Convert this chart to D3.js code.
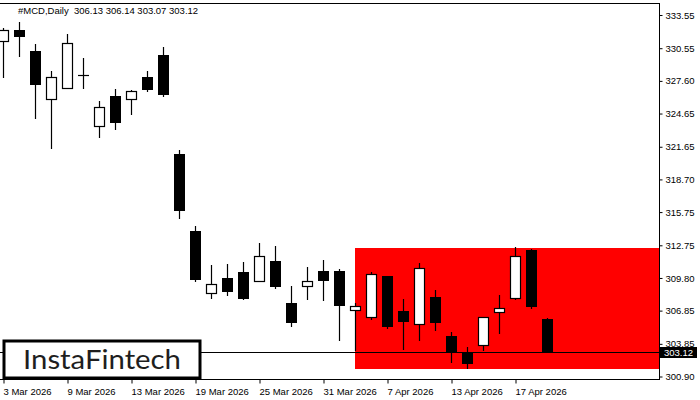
<!DOCTYPE html>
<html><head><meta charset="utf-8">
<script src="https://cdn.jsdelivr.net/npm/d3@7"></script>
<style>html,body{margin:0;padding:0;background:#fff;} svg{display:block;}</style>
</head><body><svg id="c" width="700" height="400"></svg>
<script>
const dates = ["3 Mar 2026","4 Mar 2026","5 Mar 2026","6 Mar 2026","9 Mar 2026","10 Mar 2026","11 Mar 2026","12 Mar 2026","13 Mar 2026","16 Mar 2026","17 Mar 2026","18 Mar 2026","19 Mar 2026","20 Mar 2026","23 Mar 2026","24 Mar 2026","25 Mar 2026","26 Mar 2026","27 Mar 2026","30 Mar 2026","31 Mar 2026","1 Apr 2026","2 Apr 2026","6 Apr 2026","7 Apr 2026","8 Apr 2026","9 Apr 2026","10 Apr 2026","13 Apr 2026","14 Apr 2026","15 Apr 2026","16 Apr 2026","17 Apr 2026","20 Apr 2026","21 Apr 2026"];
const opens  = [331.18,332.17,330.30,325.95,326.94,328.14,323.48,326.22,326.00,327.93,329.94,321.01,314.07,308.41,309.83,310.37,309.53,311.36,307.57,309.04,310.46,310.46,306.90,306.28,309.98,306.85,305.65,308.09,304.57,303.13,303.72,306.74,307.96,312.35,306.13];
const highs  = [332.38,332.92,330.93,328.50,331.84,329.67,325.79,326.88,326.76,328.50,330.66,321.37,314.52,311.00,311.09,311.27,312.99,312.71,309.11,310.82,311.45,310.64,307.57,310.37,310.00,307.93,311.18,308.72,304.96,303.52,306.30,308.27,312.60,312.40,306.14];
const lows   = [327.87,329.79,324.20,321.49,326.90,326.90,322.48,323.20,324.56,326.63,326.18,315.15,309.47,307.87,308.14,307.78,309.50,308.77,305.35,307.78,307.69,304.08,303.18,305.98,305.23,303.27,304.08,304.99,302.14,301.59,303.18,304.71,307.78,307.03,303.07];
const closes = [332.20,331.68,327.35,327.93,331.00,328.15,325.22,323.93,326.70,326.90,326.45,315.90,309.68,309.26,308.59,307.96,311.81,309.04,305.80,309.56,309.59,307.33,307.28,310.16,305.44,305.89,310.70,305.80,303.13,302.10,306.28,307.10,311.79,307.24,303.12];
const yTicks = [333.55,330.55,327.60,324.65,321.65,318.70,315.75,312.75,309.80,306.85,303.85,300.90];
const xTickIdx = [0,4,8,12,16,20,24,28,32];
const symbolTitle = "#MCD,Daily";
const patternStart = 22, patternHigh = 312.55, patternLow = 301.60;
const lastPrice = 303.12;

const svg = d3.select("#c");
const L = 0, R = 659, T = 3, B = 379;
const x = d3.scaleLinear().domain([-0.1875, 41]).range([L, R]);
const y = d3.scaleLinear().domain([300.90, 333.55]).range([376.5, 15]);
const font = "'Liberation Sans', Arial, sans-serif";

svg.append("defs").append("clipPath").attr("id","clip")
  .append("rect").attr("x",L).attr("y",T).attr("width",R-L).attr("height",B-T);
const plot = svg.append("g").attr("clip-path","url(#clip)");

// pattern rectangle
plot.append("rect")
  .attr("x", Math.round(x(patternStart)))
  .attr("y", Math.round(y(patternHigh)))
  .attr("width", R - Math.round(x(patternStart)))
  .attr("height", Math.round(y(patternLow)) - Math.round(y(patternHigh)))
  .attr("fill", "#ff0000");

// candles
const data = dates.map((d,i)=>({i, o:opens[i], h:highs[i], l:lows[i], c:closes[i]}));
const cg = plot.selectAll("g.c").data(data).join("g").attr("class","c");
cg.append("line")
  .attr("x1", d=>Math.round(x(d.i))+0.5).attr("x2", d=>Math.round(x(d.i))+0.5)
  .attr("y1", d=>Math.round(y(d.h))).attr("y2", d=>Math.round(y(d.l)))
  .attr("stroke","#000").attr("stroke-width",1.2);
cg.each(function(d){
  const g = d3.select(this);
  const cx = Math.round(x(d.i));
  const top = Math.round(y(Math.max(d.o,d.c)));
  const bot = Math.round(y(Math.min(d.o,d.c)));
  if (bot - top < 1) {
    g.append("line").attr("x1",cx-5).attr("x2",cx+6).attr("y1",top+0.5).attr("y2",top+0.5)
      .attr("stroke","#000").attr("stroke-width",1.2);
  } else if (d.c >= d.o) {
    g.append("rect").attr("x",cx-4.5).attr("y",top+0.5).attr("width",10).attr("height",bot-top)
      .attr("fill","#fff").attr("stroke","#000").attr("stroke-width",1.2);
  } else {
    g.append("rect").attr("x",cx-5).attr("y",top).attr("width",11).attr("height",bot-top+1)
      .attr("fill","#000");
  }
});

// last price line
svg.append("line").attr("x1",L).attr("x2",R)
  .attr("y1",Math.round(y(lastPrice))+0.5).attr("y2",Math.round(y(lastPrice))+0.5)
  .attr("stroke","#000").attr("stroke-width",1);

// frame
svg.append("line").attr("x1",L).attr("x2",R+0.5).attr("y1",T+0.5).attr("y2",T+0.5).attr("stroke","#000");
svg.append("line").attr("x1",L).attr("x2",R+0.5).attr("y1",B+0.5).attr("y2",B+0.5).attr("stroke","#000");

// right axis
const yAxis = d3.axisRight(y).tickValues(yTicks).tickFormat(d3.format(".2f")).tickSize(3).tickPadding(3);
const ya = svg.append("g").attr("transform",`translate(${R+0.5},0)`).call(yAxis);
ya.select(".domain").attr("d",`M0,${T}V${B+1}`).attr("stroke","#000");
ya.selectAll("text").attr("font-family",font).attr("font-size","9.5px").attr("fill","#000");

// bottom axis
const xAxis = d3.axisBottom(x).tickValues(xTickIdx).tickFormat(i=>dates[i]).tickSize(4).tickPadding(3);
const xa = svg.append("g").attr("transform",`translate(0,${B+0.5})`).call(xAxis);
xa.select(".domain").remove();
xa.selectAll(".tick line").attr("transform","translate(0.5,0)");
xa.selectAll("text").attr("font-family",font).attr("font-size","9.5px").attr("fill","#000")
  .attr("text-anchor","start").attr("dy","0.9em");

// last price label
const ly = Math.round(y(lastPrice));
svg.append("rect").attr("x",R+1).attr("y",ly-5).attr("width",37).attr("height",11).attr("fill","#000");
svg.append("text").attr("x",R+5).attr("y",ly+0.5).attr("dy","0.35em")
  .attr("font-family",font).attr("font-size","9.5px").attr("fill","#fff").text(lastPrice.toFixed(2));

// header
svg.append("text").attr("x",18).attr("y",14)
  .attr("font-family",font).attr("font-size","9.5px").attr("fill","#000").attr("xml:space","preserve")
  .text(`${symbolTitle}  ${opens[34].toFixed(2)} ${highs[34].toFixed(2)} ${lows[34].toFixed(2)} ${closes[34].toFixed(2)}`);

// logo
svg.append("rect").attr("x",4).attr("y",341).attr("width",196).attr("height",37)
  .attr("fill","#fff").attr("stroke","#000").attr("stroke-width",3);
svg.append("text").attr("x",23).attr("y",369)
  .attr("font-family","Lato, 'Open Sans', sans-serif").attr("font-size","26.5px").attr("font-weight",400)
  .attr("fill","#1e1e1e").attr("textLength",158).attr("lengthAdjust","spacingAndGlyphs")
  .text("InstaFintech");
</script></body></html>
